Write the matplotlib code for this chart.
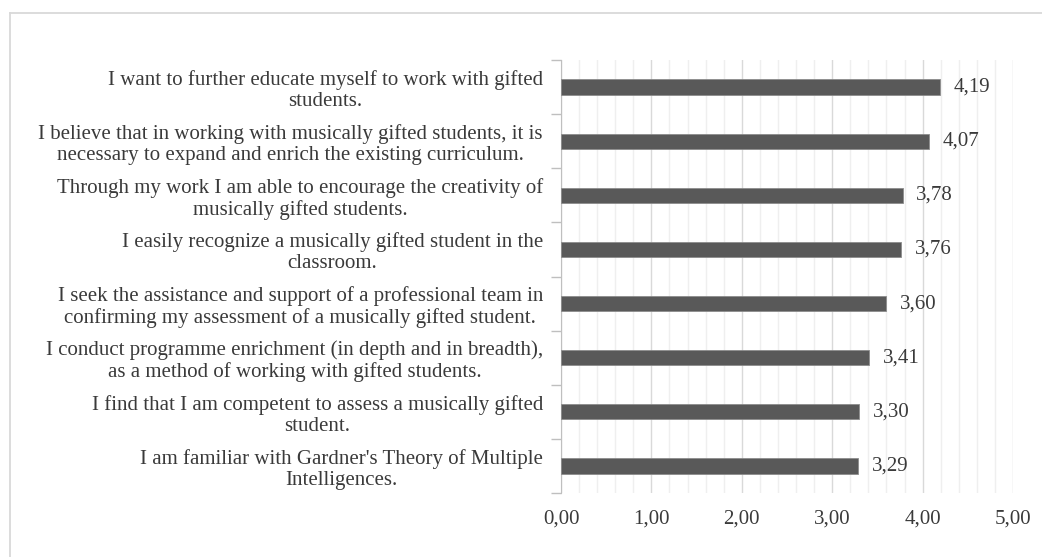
import matplotlib.pyplot as plt
from matplotlib.ticker import MultipleLocator, FixedLocator
from matplotlib.lines import Line2D

plt.rcParams['font.family'] = ['Liberation Serif', 'DejaVu Serif']

labels = [
    "I want to further educate myself to work with gifted\nstudents.",
    "I believe that in working with musically gifted students, it is\nnecessary to expand and enrich the existing curriculum.",
    "Through my work I am able to encourage the creativity of\nmusically gifted students.",
    "I easily recognize a musically gifted student in the\nclassroom.",
    "I seek the assistance and support of a professional team in\nconfirming my assessment of a musically gifted student.",
    "I conduct programme enrichment (in depth and in breadth),\nas a method of working with gifted students.",
    "I find that I am competent to assess a musically gifted\nstudent.",
    "I am familiar with Gardner's Theory of Multiple\nIntelligences.",
]
scores = [4.19, 4.07, 3.78, 3.76, 3.60, 3.41, 3.30, 3.29]
xticks = [0, 1, 2, 3, 4, 5]

txt = '#3a3a3a'
fs = 15
W, H = 1042, 557
fig = plt.figure(figsize=(W / 100, H / 100), dpi=100)
ax = fig.add_axes([561 / W, 1 - 493 / H, (1013 - 561) / W, (493 - 60) / H])

# chart frame (top and left edges only)
fig.add_artist(Line2D([10 / W, 1], [1 - 13 / H] * 2, color='#d9d9d9', lw=1.3, transform=fig.transFigure))
fig.add_artist(Line2D([10 / W] * 2, [0, 1 - 13 / H], color='#d9d9d9', lw=1.3, transform=fig.transFigure))

y = list(range(len(labels)))
ax.barh(y, scores, height=0.28, color='#595959', edgecolor='#8c8c8c', linewidth=0.6, zorder=3)
for yi, v in zip(y, scores):
    ax.text(v + 0.15, yi, f'{v:.2f}'.replace('.', ','), va='center', ha='left',
            fontsize=fs, color=txt)

ax.set_ylim(len(labels) - 0.5, -0.5)
ax.set_xlim(0, 5)
ax.set_yticks(y)
ax.set_yticklabels(labels, ha='right', multialignment='center', fontsize=fs,
                   color=txt, linespacing=1.15)
ax.yaxis.set_minor_locator(FixedLocator([i - 0.5 for i in range(len(labels) + 1)]))
ax.tick_params(axis='y', which='major', length=0, pad=13)
ax.tick_params(axis='y', which='minor', length=7, color='#bfbfbf', width=1)

ax.set_xticks(xticks)
ax.set_xticklabels([f'{t:.2f}'.replace('.', ',') for t in xticks])
ax.xaxis.set_minor_locator(MultipleLocator(0.2))
ax.tick_params(axis='x', which='both', length=0, labelsize=fs, labelcolor=txt, pad=12)
ax.grid(axis='x', which='major', color='#d9d9d9', lw=1, zorder=0)
ax.grid(axis='x', which='minor', color='#efefef', lw=1, zorder=0)

for s in ['top', 'right', 'bottom']:
    ax.spines[s].set_visible(False)
ax.spines['left'].set_color('#bfbfbf')

fig.savefig('out.png', dpi=100)
